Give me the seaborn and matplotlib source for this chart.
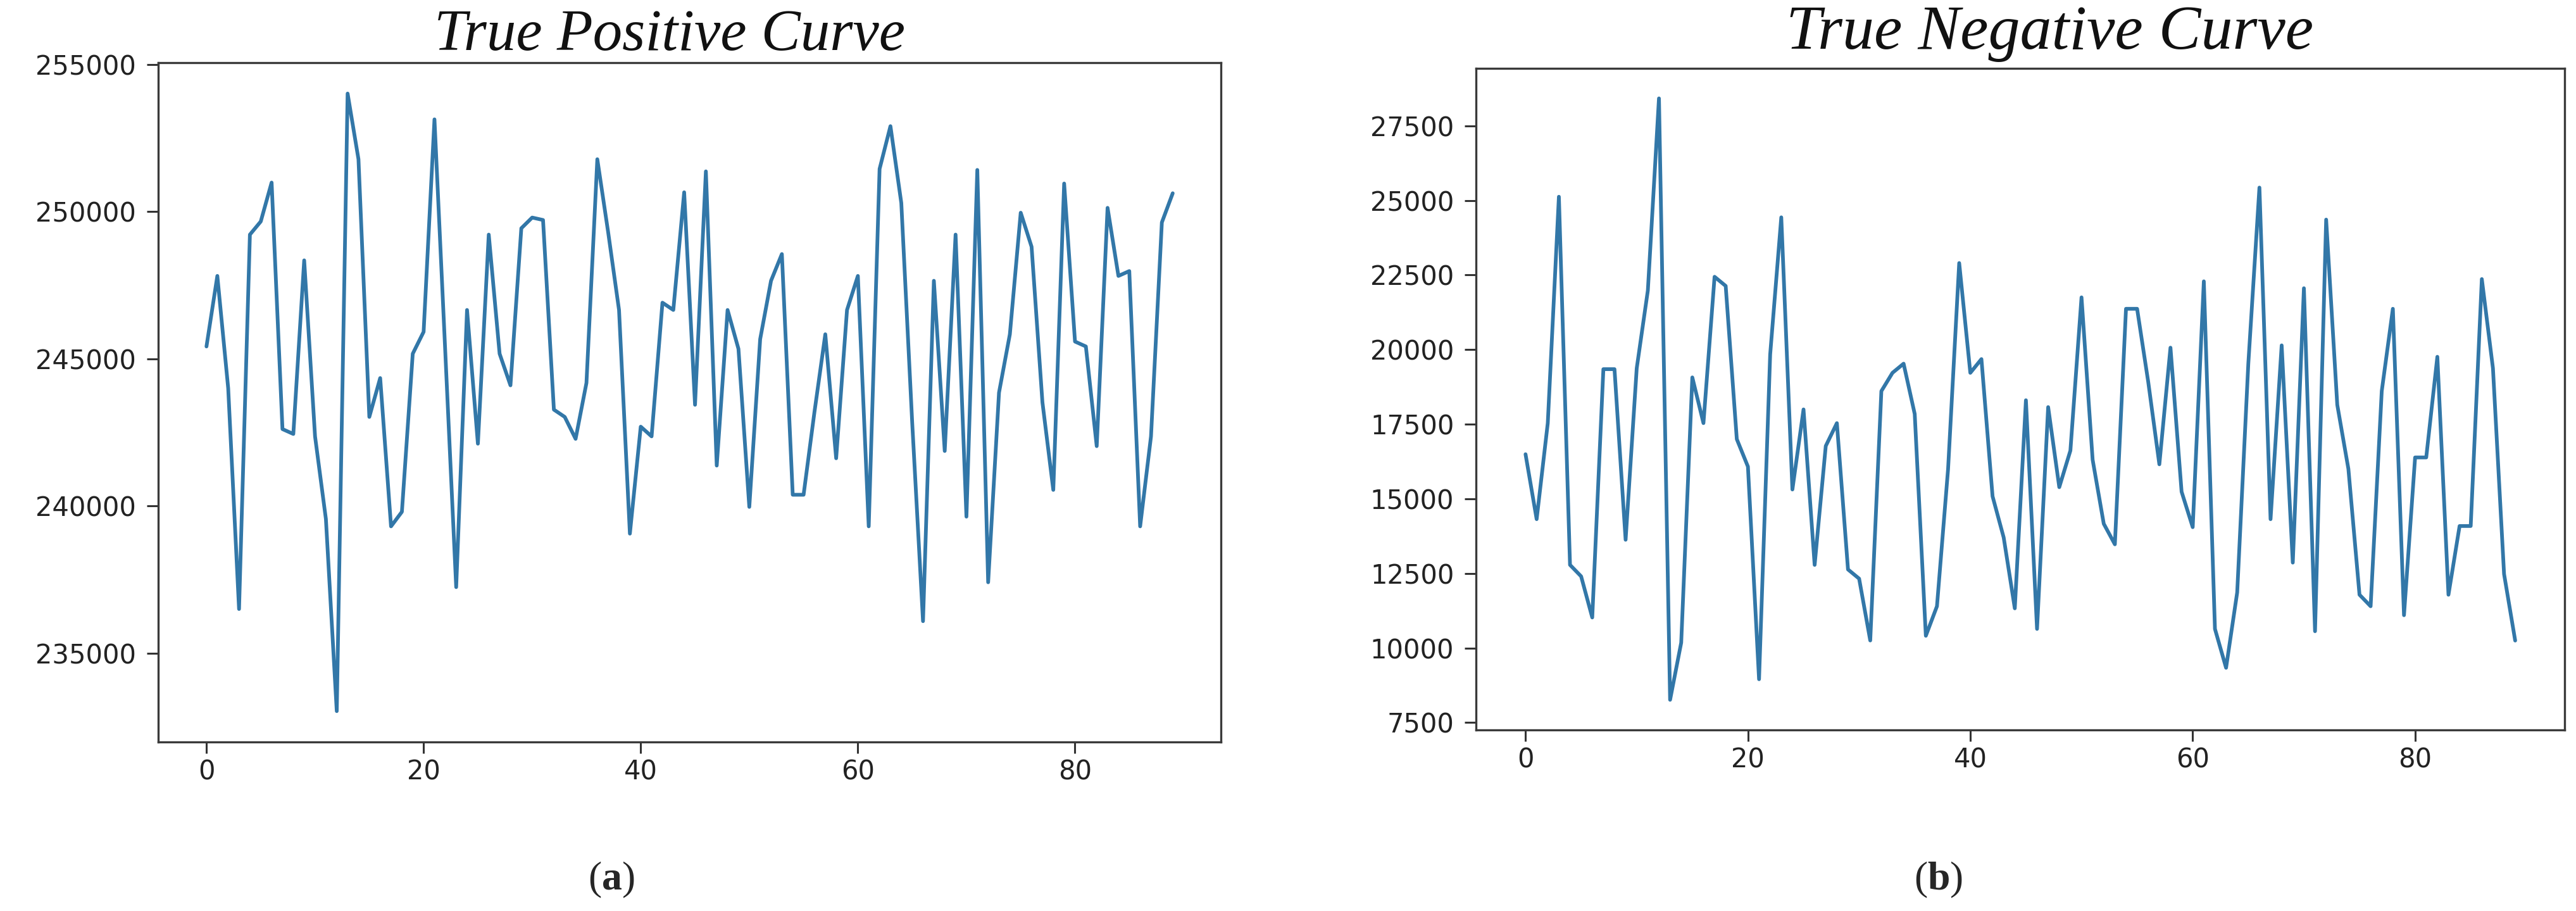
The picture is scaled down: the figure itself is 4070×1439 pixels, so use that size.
# True positive / true negative curves, panels (a) and (b)
import matplotlib
matplotlib.use('Agg')
import matplotlib.pyplot as plt
import seaborn as sns

# values, one per index 0..89
tp_values = [245420, 247818, 244000, 236496, 249223, 249669, 250992, 242612, 242446, 248347,
             242364, 239554, 233025, 254017, 251785, 243025, 244347, 239306, 239800, 245174,
             245917, 253140, 245200, 237240, 246661, 242116, 249223, 245174, 244099, 249438,
             249802, 249719, 243273, 243025, 242280, 244182, 251785, 249300, 246660, 239058,
             242694, 242364, 246909, 246661, 250661, 243438, 251372, 241372, 246661, 245339,
             239967, 245669, 247653, 248562, 240380, 240380, 243190, 245835, 241620, 246661,
             247818, 239306, 251455, 252909, 250298, 242860, 236083, 247653, 241868, 249223,
             239636, 251421, 237405, 243851, 245835, 249967, 248810, 243521, 240545, 250959,
             245587, 245421, 242033, 250132, 247818, 247983, 239306, 242364, 249636, 250628]

tn_values = [16495, 14318, 17537, 25124, 12786, 12402, 11023, 19346, 19346, 13628,
             19377, 21982, 28420, 8264, 10180, 19070, 17537, 22442, 22135, 17000,
             16080, 8954, 19837, 24434, 15313, 17996, 12786, 16771, 17537, 12633,
             12325, 10253, 18610, 19223, 19530, 17844, 10410, 11400, 16000, 22902,
             19223, 19683, 15085, 13705, 11330, 18304, 10640, 18074, 15390, 16617,
             21752, 16310, 14164, 13475, 21369, 21369, 18917, 16157, 20066, 15238,
             14050, 22289, 10640, 9337, 11863, 19530, 25431, 14318, 20143, 12863,
             22058, 10563, 24358, 18150, 16004, 11786, 11400, 18610, 21369, 11100,
             16387, 16387, 19760, 11786, 14089, 14089, 22365, 19377, 12479, 10250]

steps = list(range(len(tp_values)))
titles = ['True Positive Curve', 'True Negative Curve']
panel_labels = ['a', 'b']

sns.set_style('ticks')
plt.rcParams['font.family'] = ['DejaVu Sans']
plt.rcParams['mathtext.fontset'] = 'custom'
plt.rcParams['mathtext.rm'] = 'Liberation Serif'
plt.rcParams['mathtext.bf'] = 'Liberation Serif:bold'

line_color = '#3277a8'

fig = plt.figure(figsize=(40.7, 14.39), dpi=100)
ax1 = fig.add_axes([0.0614, 0.1855, 0.4126, 0.7457])
ax2 = fig.add_axes([0.573, 0.1988, 0.4226, 0.7262])

# title settings per panel: x position, pad, size
for ax, vals, title, tx, tpad, tsize in [(ax1, tp_values, titles[0], 0.481, 10, 67),
                                         (ax2, tn_values, titles[1], 0.527, 22, 72)]:
    sns.lineplot(x=steps, y=vals, ax=ax, color=line_color, linewidth=4.2)
    ax.set_xticks([0, 20, 40, 60, 80])
    ax.set_title(title, fontfamily='Liberation Serif', fontstyle='italic',
                 fontsize=tsize, pad=tpad, x=tx, color='#111111')
    ax.tick_params(axis='both', labelsize=30, length=13, width=2.2,
                   color='#333333', labelcolor='#222222')
    ax.tick_params(axis='y', pad=12)
    ax.tick_params(axis='x', pad=6)
    for sp in ax.spines.values():
        sp.set_linewidth(2.4)
        sp.set_color('#3a3a3a')

ax2.set_yticks([7500, 10000, 12500, 15000, 17500, 20000, 22500, 25000, 27500])

fig.text(0.2373, 0.034, r'($\mathbf{a}$)', ha='center', va='center',
         fontsize=46, family='Liberation Serif')
fig.text(0.7526, 0.034, r'($\mathbf{b}$)', ha='center', va='center',
         fontsize=46, family='Liberation Serif')

fig.savefig('out.png', dpi=100, facecolor='white')
